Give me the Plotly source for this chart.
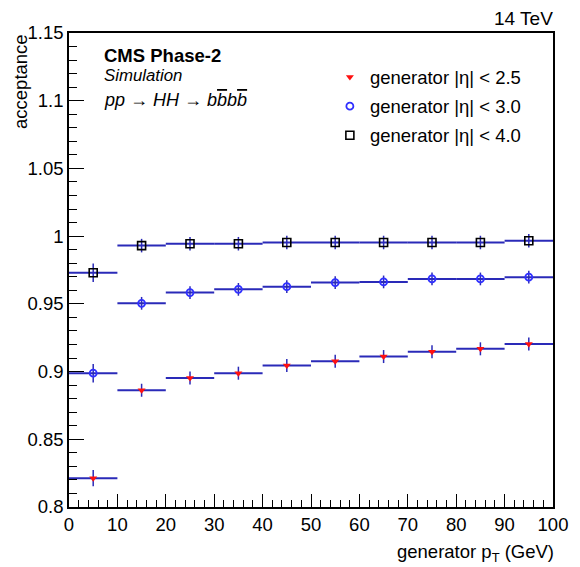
import plotly.graph_objects as go

pt_centers = [5, 15, 25, 35, 45, 55, 65, 75, 85, 95]
bin_halfwidth = [5] * 10

acc_eta25 = [0.8213, 0.8862, 0.8953, 0.8988, 0.9045, 0.9077, 0.9111, 0.9146, 0.9168, 0.9203]
err_eta25 = [0.0060, 0.0048, 0.0048, 0.0048, 0.0048, 0.0048, 0.0048, 0.0048, 0.0048, 0.0048]
acc_eta30 = [0.8988, 0.9504, 0.9583, 0.9607, 0.9627, 0.9657, 0.9662, 0.9684, 0.9684, 0.9697]
err_eta30 = [0.0068, 0.0047, 0.0047, 0.0047, 0.0047, 0.0047, 0.0047, 0.0047, 0.0047, 0.0047]
acc_eta40 = [0.9730, 0.9930, 0.9944, 0.9944, 0.9953, 0.9953, 0.9953, 0.9953, 0.9953, 0.9966]
err_eta40 = [0.0068, 0.0050, 0.0050, 0.0050, 0.0050, 0.0050, 0.0050, 0.0050, 0.0050, 0.0050]

labels = ["generator |η| < 2.5", "generator |η| < 3.0", "generator |η| < 4.0"]

FONT = "Liberation Sans, Arial, Helvetica, sans-serif"
ERRC = "#2a2ab8"
FS = 18.5

fig = go.Figure()
series = [
    (acc_eta25, err_eta25, dict(symbol="triangle-down", size=7, color="#ff1010",
                                line=dict(width=0))),
    (acc_eta30, err_eta30, dict(symbol="circle-open", size=7, color="#3030ff",
                                line=dict(width=1.8))),
    (acc_eta40, err_eta40, dict(symbol="square-open", size=8, color="black",
                                line=dict(width=1.6))),
]
for i, (vals, errs, mk) in enumerate(series):
    fig.add_trace(go.Scatter(
        x=pt_centers, y=vals, mode="markers", name=labels[i],
        legendgroup=f"g{i}",
        marker=mk,
        error_x=dict(type="data", array=bin_halfwidth, color=ERRC, thickness=2, width=0),
        error_y=dict(type="data", array=errs, color=ERRC, thickness=1.5, width=0),
    ))

fig.update_layout(
    width=580, height=567,
    margin=dict(l=69, r=17, t=33, b=60),
    paper_bgcolor="white", plot_bgcolor="white",
    font=dict(family=FONT, size=FS, color="black"),
    showlegend=True,
    legend=dict(x=0.539, y=0.946, xanchor="left", yanchor="top",
                bgcolor="rgba(0,0,0,0)", font=dict(size=FS, family=FONT),
                tracegroupgap=2, traceorder="grouped", itemwidth=30),
    xaxis=dict(range=[0, 100], tickvals=[0, 10, 20, 30, 40, 50, 60, 70, 80, 90, 100],
               ticks="inside", ticklen=13, tickwidth=1, tickcolor="black",
               minor=dict(ticks="inside", ticklen=7, dtick=2, tickcolor="black", showgrid=False),
               showline=True, linecolor="black", linewidth=1.5, mirror=True,
               showgrid=False, zeroline=False, tickfont=dict(size=FS)),
    yaxis=dict(range=[0.8, 1.15], tickvals=[0.8, 0.85, 0.9, 0.95, 1.0, 1.05, 1.1, 1.15],
               ticktext=["0.8", "0.85", "0.9", "0.95", "1", "1.05", "1.1", "1.15"],
               ticks="inside", ticklen=15, tickwidth=1, tickcolor="black",
               minor=dict(ticks="inside", ticklen=8, dtick=0.01, tickcolor="black", showgrid=False),
               showline=True, linecolor="black", linewidth=1.5, mirror=True,
               showgrid=False, zeroline=False, tickfont=dict(size=FS)),
)

ann = [
    dict(x=1.0, y=1.0, xref="paper", yref="paper", xanchor="right", yanchor="middle",
         yshift=15, xshift=2, text="14 TeV", showarrow=False, font=dict(size=19)),
    dict(x=0.068, y=0.952, xref="paper", yref="paper", xanchor="left", yanchor="middle",
         text="<b>CMS Phase-2</b>", showarrow=False, font=dict(size=18.5)),
    dict(x=0.068, y=0.911, xref="paper", yref="paper", xanchor="left", yanchor="middle",
         text="<i>Simulation</i>", showarrow=False, font=dict(size=16.8)),
    dict(x=0.068, y=0.859, xref="paper", yref="paper", xanchor="left", yanchor="middle",
         text="<i>pp → HH → b<span style='text-decoration:overline'>b</span>b<span style='text-decoration:overline'>b</span></i>",
         showarrow=False, font=dict(size=18)),
    dict(x=-0.0994, y=1.003, xref="paper", yref="paper", xanchor="center", yanchor="top",
         xshift=-1, text="acceptance", textangle=-90, showarrow=False, font=dict(size=FS)),
    dict(x=1.0, y=-0.075, xref="paper", yref="paper", xanchor="right", yanchor="top",
         xshift=3, yshift=4, text="generator p<sub>T</sub> (GeV)", showarrow=False,
         font=dict(size=FS)),
]
fig.update_layout(annotations=ann)

fig.write_html("out.html")
